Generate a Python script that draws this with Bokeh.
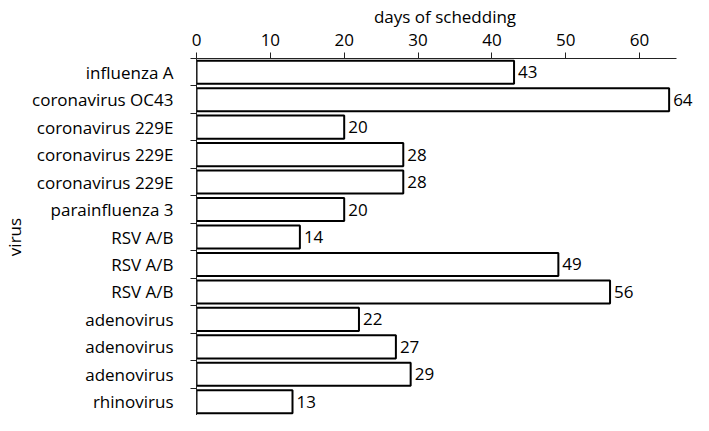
from bokeh.plotting import figure
from bokeh.models import Range1d, FixedTicker, ColumnDataSource
from bokeh.core.properties import value
from bokeh.embed import file_html
from bokeh.resources import INLINE

viruses = ["influenza A", "coronavirus OC43", "coronavirus 229E", "coronavirus 229E",
           "coronavirus 229E", "parainfluenza 3", "RSV A/B", "RSV A/B", "RSV A/B",
           "adenovirus", "adenovirus", "adenovirus", "rhinovirus"]
days = [43, 64, 20, 28, 28, 20, 14, 49, 56, 22, 27, 29, 13]
x_ticks = [0, 10, 20, 30, 40, 50, 60]

n = len(viruses)
ypos = list(range(n))
src = ColumnDataSource(dict(y=ypos, days=days, label=[str(d) for d in days]))

FONT = "Open Sans"
FS = "17px"

p = figure(width=693, height=415, output_backend="svg", toolbar_location=None,
           x_range=Range1d(0, 67.3), y_range=Range1d(n - 0.5, -0.5),
           x_axis_location="above",
           min_border_left=187, min_border_right=0, min_border_top=58, min_border_bottom=0)

p.hbar(y="y", left=0, right="days", height=0.84, fill_color="white",
       line_color="black", line_width=2, source=src)
p.text(x="days", y="y", text="label", x_offset=4, text_baseline="middle",
       text_align="left", text_font=value(FONT), text_font_size=FS,
       text_color="black", source=src)

p.xgrid.visible = False
p.ygrid.visible = False
p.outline_line_color = None

xa = p.xaxis[0]
xa.ticker = FixedTicker(ticks=x_ticks)
xa.bounds = (0, 65)
xa.major_tick_in = 0
xa.major_tick_out = 6
xa.minor_tick_in = 0
xa.minor_tick_out = 0
xa.axis_label = "days of schedding"

ya = p.yaxis[0]
ya.ticker = FixedTicker(ticks=ypos, minor_ticks=[i - 0.5 for i in range(n + 1)])
ya.major_label_overrides = {i: v for i, v in enumerate(viruses)}
ya.major_tick_in = 0
ya.major_tick_out = 0
ya.minor_tick_in = 0
ya.minor_tick_out = 6
ya.axis_label = "virus"

for ax in (xa, ya):
    ax.axis_line_color = "#222222"
    ax.minor_tick_line_color = "#222222"
    ax.major_label_text_font = FONT
    ax.major_label_text_font_size = FS
    ax.major_label_text_color = "black"
    ax.axis_label_text_font = FONT
    ax.axis_label_text_font_size = FS
    ax.axis_label_text_font_style = "normal"
    ax.axis_label_text_color = "black"
xa.major_tick_line_color = "#222222"
ya.major_tick_line_color = None

xa.major_label_standoff = 7
xa.axis_label_standoff = 3
ya.major_label_standoff = 17
ya.axis_label_standoff = 3

open("out.html", "w").write(file_html(p, INLINE))
